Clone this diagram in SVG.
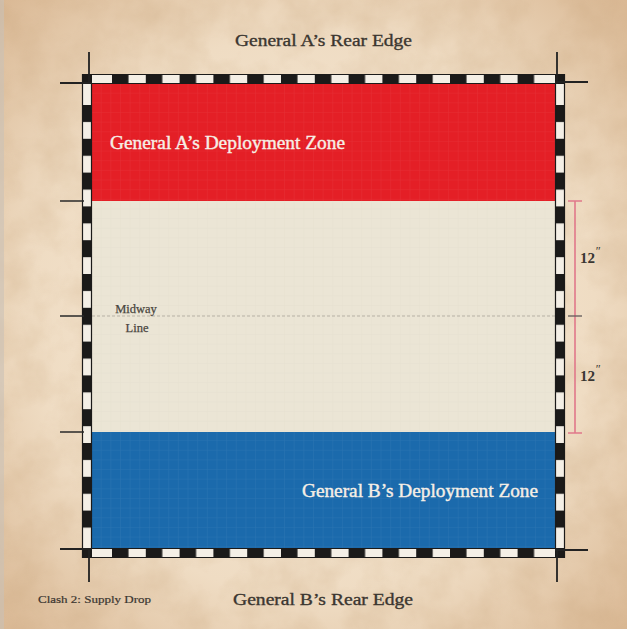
<svg xmlns="http://www.w3.org/2000/svg" width="627" height="629" viewBox="0 0 627 629">
<defs>
<style>
.serif{font-family:"Liberation Serif","DejaVu Serif",serif;}
.title{font-size:17px;fill:#3b3630;stroke:#3b3630;stroke-width:0.35;}
.zone{font-size:19px;fill:#f6efe6;stroke:#f6efe6;stroke-width:0.4;}
.mid{font-size:12.5px;fill:#4a4640;stroke:#4a4640;stroke-width:0.25;}
.meas{font-size:15px;font-weight:bold;fill:#3a3632;}
.tick{stroke:#2a2a2a;stroke-width:1.6;fill:none;}
.crop{stroke:#222;stroke-width:1.8;fill:none;}
.ruler{stroke:#e0788a;stroke-width:1.6;fill:none;}
</style>
<radialGradient id="parch" cx="0.5" cy="0.5" r="0.75">
<stop offset="0" stop-color="#f6ead8"/>
<stop offset="0.6" stop-color="#efdcc3"/>
<stop offset="1" stop-color="#d6b28c"/>
</radialGradient>
<filter id="mottle" x="0" y="0" width="100%" height="100%">
<feTurbulence type="fractalNoise" baseFrequency="0.025" numOctaves="4" seed="7" result="n"/>
<feColorMatrix in="n" type="matrix" values="0 0 0 0 0.55  0 0 0 0 0.35  0 0 0 0 0.18  0 0 0 -1.1 0.75"/>
</filter>
<pattern id="hdash" patternUnits="userSpaceOnUse" x="112" y="0" width="33.8" height="629">
<rect x="0" y="0" width="16.5" height="629" fill="#1b1a19"/>
</pattern>
<pattern id="vdash" patternUnits="userSpaceOnUse" x="0" y="105" width="627" height="33.8">
<rect x="0" y="0" width="627" height="17" fill="#1b1a19"/>
</pattern>
<pattern id="grid" patternUnits="userSpaceOnUse" x="92" y="84" width="9.65" height="9.65">
<path d="M9.65 0V9.65H0" fill="none" stroke="#ffffff" stroke-opacity="0.07" stroke-width="1"/>
</pattern>
<pattern id="gridd" patternUnits="userSpaceOnUse" x="92" y="84" width="9.65" height="9.65">
<path d="M9.65 0V9.65H0" fill="none" stroke="#8a8270" stroke-opacity="0.06" stroke-width="1"/>
</pattern>
</defs>

<g id="background">
<rect x="0" y="0" width="627" height="629" fill="url(#parch)"/>
<rect x="0" y="0" width="627" height="629" filter="url(#mottle)" opacity="0.4"/>
<rect x="0" y="0" width="4" height="629" fill="#c9c2b8" opacity="0.6"/>
</g>

<g id="board">
<rect id="middle-area" x="92" y="201" width="463" height="231" fill="#ebe5d5"/>
<rect x="92" y="201" width="463" height="231" fill="url(#gridd)"/>
<line id="midway-line" x1="92" y1="316" x2="555" y2="316" stroke="#aaa59a" stroke-width="0.8" stroke-dasharray="3 2"/>
</g>

<g id="zone-a">
<rect x="92" y="84" width="463" height="117" fill="#e41f26"/>
<rect x="92" y="84" width="463" height="117" fill="url(#grid)"/>
<text class="serif zone" x="110" y="149" textLength="235" lengthAdjust="spacingAndGlyphs">General A’s Deployment Zone</text>
</g>

<g id="zone-b">
<rect x="92" y="432" width="463" height="116" fill="#1b6aac"/>
<rect x="92" y="432" width="463" height="116" fill="url(#grid)"/>
<text class="serif zone" x="302" y="497" textLength="236" lengthAdjust="spacingAndGlyphs">General B’s Deployment Zone</text>
</g>

<g id="border">
<rect x="82" y="74" width="483" height="10" fill="#f4efe6"/>
<rect x="82" y="548" width="483" height="10" fill="#f4efe6"/>
<rect x="82" y="84" width="10" height="464" fill="#f4efe6"/>
<rect x="555" y="84" width="10" height="464" fill="#f4efe6"/>
<rect x="100" y="74" width="440" height="10" fill="url(#hdash)"/>
<rect x="100" y="548" width="440" height="10" fill="url(#hdash)"/>
<rect x="82" y="95" width="10" height="440" fill="url(#vdash)"/>
<rect x="555" y="95" width="10" height="440" fill="url(#vdash)"/>
<rect x="82" y="74" width="10" height="10" fill="#1b1a19"/>
<rect x="555" y="74" width="10" height="10" fill="#1b1a19"/>
<rect x="82" y="548" width="10" height="10" fill="#1b1a19"/>
<rect x="555" y="548" width="10" height="10" fill="#1b1a19"/>
<path d="M82.5 74.5H564.5V557.5H82.5Z M91.5 83.5H555.5V548.5H91.5Z" fill="none" stroke="#1b1a19" stroke-width="1.2"/>
</g>

<g id="connectors">
<path class="crop" d="M60 83H92 M89 52V84 M555 82H588 M557 52V84 M60 549H92 M89 548V582 M555 550H588 M557 548V582"/>
<path class="tick" d="M60 201H84 M60 316H84 M60 432H84"/>
<path class="ruler" d="M575 201V433 M568 201H582 M568 433H582"/>
<path d="M568 316H582" stroke="#6a6260" stroke-width="1.4"/>
</g>

<g id="labels">
<text class="serif title" x="235" y="46" textLength="177" lengthAdjust="spacingAndGlyphs">General A’s Rear Edge</text>
<text class="serif title" x="233" y="605" textLength="180" lengthAdjust="spacingAndGlyphs">General B’s Rear Edge</text>
<text class="serif" x="38" y="603" font-size="11" fill="#3b3630" stroke="#3b3630" stroke-width="0.2" textLength="113" lengthAdjust="spacingAndGlyphs">Clash 2: Supply Drop</text>
<text class="serif mid" x="136" y="313" text-anchor="middle">Midway</text>
<text class="serif mid" x="137" y="332" text-anchor="middle">Line</text>
<text class="serif meas" x="580" y="263">12<tspan font-size="12" font-style="italic" font-weight="normal" dy="-8">″</tspan></text>
<text class="serif meas" x="580" y="381">12<tspan font-size="12" font-style="italic" font-weight="normal" dy="-8">″</tspan></text>
</g>
</svg>
